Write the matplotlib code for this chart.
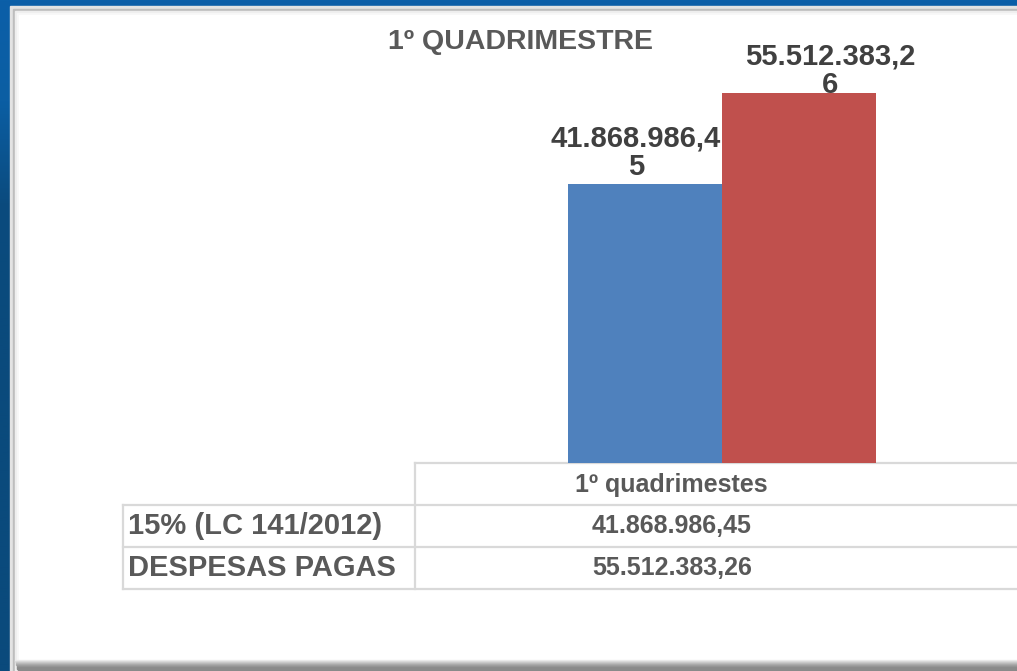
import matplotlib
matplotlib.use("Agg")
import matplotlib.pyplot as plt
import numpy as np
from matplotlib.patches import Rectangle
from matplotlib.lines import Line2D
from matplotlib.colors import LinearSegmentedColormap

title = "1º QUADRIMESTRE"
category = "1º quadrimestes"
series_names = ["15% (LC 141/2012)", "DESPESAS PAGAS"]
values = [41868986.45, 55512383.26]
value_labels = ["41.868.986,45", "55.512.383,26"]
bar_labels = ["41.868.986,4\n5", "55.512.383,2\n6"]
colors = ["#4f81bd", "#c0504d"]

plt.rcParams['font.family'] = ['Liberation Sans', 'DejaVu Sans']

W, H = 1017, 671
fig = plt.figure(figsize=(W / 100, H / 100), dpi=100)
fig.patch.set_facecolor("#0b5ea3")

def fx(px):
    return px / W

def fy(py):
    return 1 - py / H

# background panel
bg = fig.add_axes([0, 0, 1, 1])
bg.set_xlim(0, W)
bg.set_ylim(H, 0)
bg.axis("off")
cmap = LinearSegmentedColormap.from_list("bl", ["#0b5fa8", "#0b5ea3", "#0a4b7e", "#0a4a7c"])
grad = np.linspace(0, 1, 256).reshape(-1, 1)
grad = np.clip(grad * 2.2, 0, 1)
bg.imshow(grad, cmap=cmap, extent=(0, W, H, 0), aspect="auto", zorder=0)
bg.add_patch(Rectangle((10, 6), W, H, color="#e3e3e3", zorder=1))
bg.add_patch(Rectangle((13, 9), W, H, color="#bdbdbd", zorder=1))
bg.add_patch(Rectangle((15, 11), W, H, color="#eeeeee", zorder=1))
bg.add_patch(Rectangle((17, 13), W, H, color="#f7f7f7", zorder=1))
bg.add_patch(Rectangle((19, 15), W, 645, color="white", zorder=1))
for i, c in enumerate(["#ededed", "#dcdcdc", "#cccccc", "#bcbcbc", "#adadad", "#a0a0a0", "#969696", "#8c8c8c", "#8a8a8a", "#8a8a8a", "#8a8a8a"]):
    bg.add_patch(Rectangle((15 + i * 0.3, 660 + i), W, 1.05, color=c, zorder=1))

# chart axes
left_px, right_px, bot_px, top_px = 415, 1017, 463, 23
ax = fig.add_axes([fx(left_px), fy(bot_px), fx(right_px - left_px), (bot_px - top_px) / H])
ax.patch.set_alpha(0)
w = 0.5
xs = [-w / 2, w / 2]
ax.bar(xs, values, width=w, color=colors)
ax.set_xlim(-0.994, 0.955)
ax.set_ylim(0, 66e6)
ax.axis("off")

offsets = [(-9, 3), (31, -6)]
for x, v, lab, (dx, dy) in zip(xs, values, bar_labels, offsets):
    ax.annotate(lab, (x, v), xytext=(dx, dy), textcoords="offset pixels",
                ha="center", va="bottom", fontsize=21, fontweight="bold",
                color="#404040", linespacing=1.0)

fig.text(fx(520), fy(42), title, ha="center", va="center", fontsize=20.5,
         fontweight="bold", color="#595959")

# table
lc = "#d9d9d9"
lines = [
    ((415, 1017), (463, 463)),
    ((123, 1017), (505, 505)),
    ((123, 1017), (547, 547)),
    ((123, 1017), (589, 589)),
    ((123, 123), (505, 589)),
    ((415, 415), (463, 589)),
]
for (x0, x1), (y0, y1) in lines:
    bg.add_line(Line2D([x0, x1], [y0, y1], color=lc, lw=1.6, zorder=2))

bg.text(671, 485, category, ha="center", va="center", fontsize=18,
        fontweight="bold", color="#595959")
row_y = [526, 568]
for y, name, vl in zip(row_y, series_names, value_labels):
    bg.text(128, y, name, ha="left", va="center", fontsize=21,
            fontweight="bold", color="#595959")
    bg.text(672, y, vl, ha="center", va="center", fontsize=18,
            fontweight="bold", color="#595959")

fig.savefig("out.png", dpi=100, facecolor=fig.get_facecolor())
